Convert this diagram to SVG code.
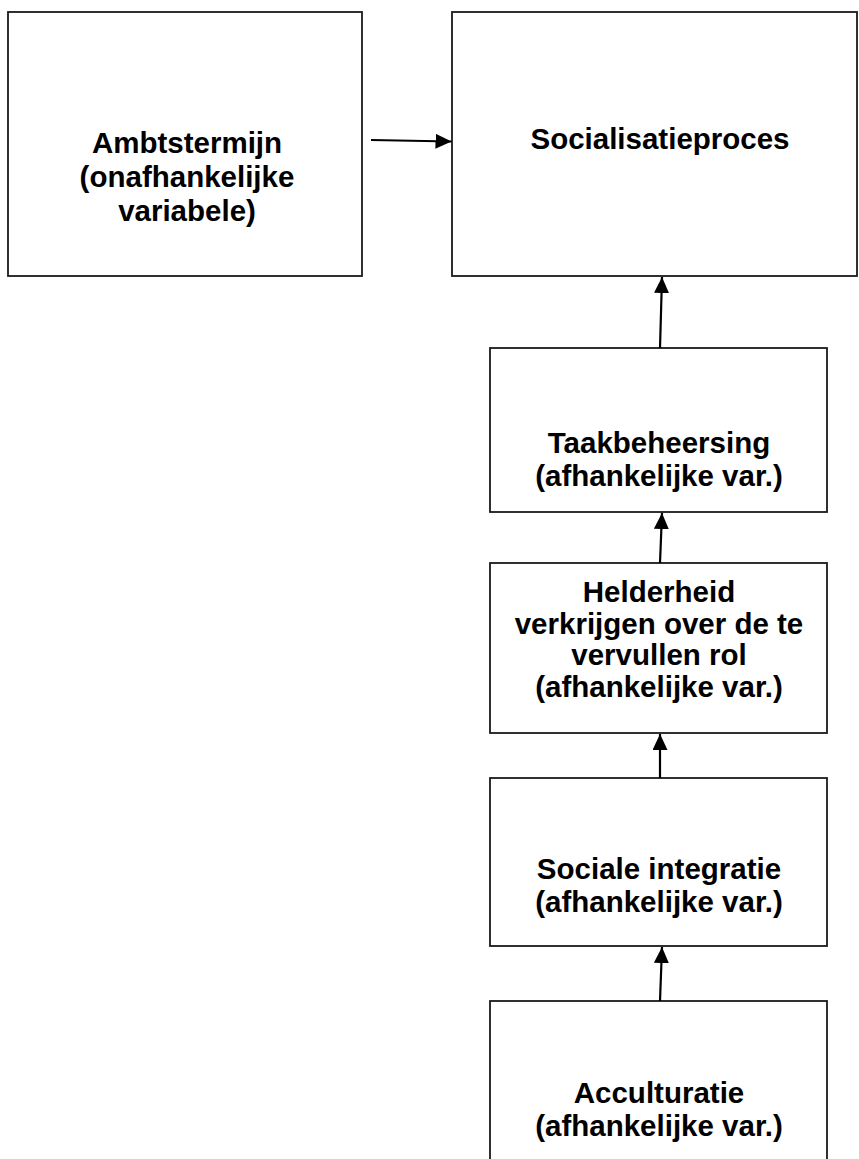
<svg xmlns="http://www.w3.org/2000/svg" width="859" height="1159" viewBox="0 0 859 1159">
<defs>
<style>
.box{fill:#fff;stroke:#1a1a1a;stroke-width:1.8}
.t{font-family:"Liberation Sans",Arial,sans-serif;font-weight:bold;font-size:29.5px;fill:#000;text-anchor:middle}
.c{stroke:#000;stroke-width:2.2;fill:none;marker-end:url(#ah)}
</style>
<marker id="ah" markerUnits="userSpaceOnUse" markerWidth="18" markerHeight="16" refX="16" refY="7.5" orient="auto">
<path d="M0,0 L16,7.5 L0,15 Z" fill="#000"/>
</marker>
</defs>
<rect width="859" height="1159" fill="#fff"/>
<g id="ambtstermijn">
<rect class="box" x="8" y="12" width="354" height="264"/>
<text class="t" x="187" y="153">Ambtstermijn</text>
<text class="t" x="187" y="187">(onafhankelijke</text>
<text class="t" x="187" y="220.5">variabele)</text>
</g>
<g id="socialisatieproces">
<rect class="box" x="452" y="12" width="405" height="264"/>
<text class="t" x="660" y="149">Socialisatieproces</text>
</g>
<g id="taakbeheersing">
<rect class="box" x="490" y="348" width="337" height="164"/>
<text class="t" x="659" y="453">Taakbeheersing</text>
<text class="t" x="659" y="485.5">(afhankelijke var.)</text>
</g>
<g id="helderheid">
<rect class="box" x="490" y="563" width="337" height="170"/>
<text class="t" x="659" y="602">Helderheid</text>
<text class="t" x="659" y="633.5">verkrijgen over de te</text>
<text class="t" x="659" y="665">vervullen rol</text>
<text class="t" x="659" y="697">(afhankelijke var.)</text>
</g>
<g id="sociale-integratie">
<rect class="box" x="490" y="778" width="337" height="168"/>
<text class="t" x="659" y="879">Sociale integratie</text>
<text class="t" x="659" y="911.5">(afhankelijke var.)</text>
</g>
<g id="acculturatie">
<rect class="box" x="490" y="1001" width="337" height="170"/>
<text class="t" x="659" y="1103">Acculturatie</text>
<text class="t" x="659" y="1135.5">(afhankelijke var.)</text>
</g>
<g id="connectors">
<line class="c" x1="371" y1="140" x2="451.5" y2="141.5"/>
<line class="c" x1="660" y1="348" x2="662" y2="277"/>
<line class="c" x1="660" y1="563" x2="662" y2="513"/>
<line class="c" x1="660" y1="778" x2="660" y2="734"/>
<line class="c" x1="660" y1="1001" x2="662" y2="947"/>
</g>
</svg>
